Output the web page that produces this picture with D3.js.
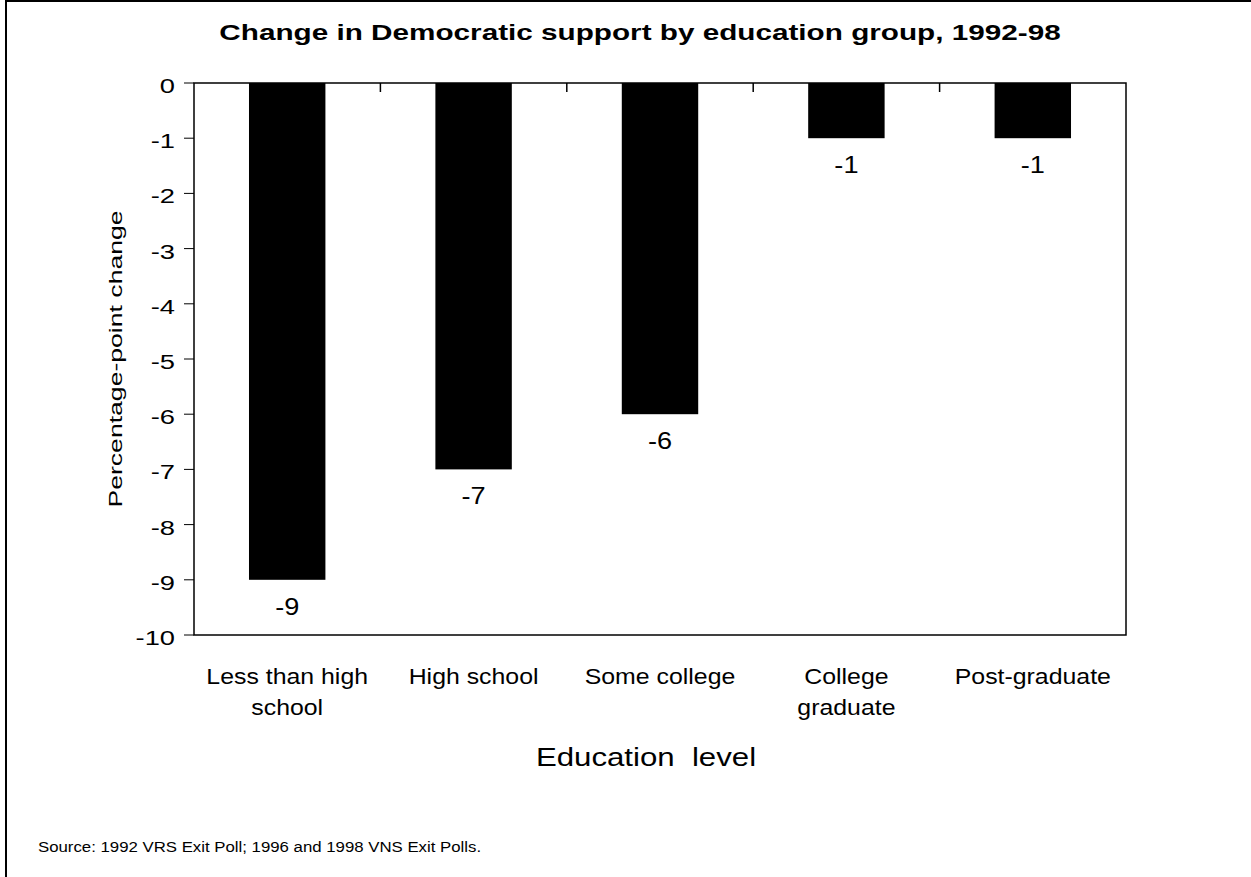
<!DOCTYPE html>
<html>
<head>
<meta charset="utf-8">
<script src="https://cdn.jsdelivr.net/npm/d3@7"></script>
<style>
  body { margin: 0; background: #fff; }
  text { font-family: "Liberation Sans", Arial, sans-serif; fill: #000; }
</style>
</head>
<body>
<div id="chart"></div>
<script>
// data
var categories = ["Less than high school", "High school", "Some college", "College graduate", "Post-graduate"];
var categoryLines = [["Less than high", "school"], ["High school"], ["Some college"], ["College", "graduate"], ["Post-graduate"]];
var changes = [-9, -7, -6, -1, -1];
var yTicks = [0, -1, -2, -3, -4, -5, -6, -7, -8, -9, -10];

var width = 1251, height = 877;
var margin = {top: 83, right: 125, bottom: 242, left: 194};

var svg = d3.select("#chart").append("svg")
  .attr("width", width)
  .attr("height", height);

// the original text is drawn wider than normal, so stretch it sideways
function wide(sel, sx) {
  sel.each(function() {
    var t = d3.select(this);
    var px = +t.attr("x") || 0, py = +t.attr("y") || 0;
    t.attr("x", 0).attr("y", 0)
      .attr("transform", `translate(${px},${py}) scale(${sx},1)`);
    t.selectAll("tspan").attr("x", 0);
  });
}

// outer frame (only left and top edges visible)
svg.append("rect")
  .attr("x", 6).attr("y", 1)
  .attr("width", width + 10).attr("height", height + 10)
  .attr("fill", "none").attr("stroke", "#000").attr("stroke-width", 2);

var x = d3.scaleBand()
  .domain(categories)
  .range([margin.left, width - margin.right])
  .paddingInner(0.59).paddingOuter(0.295);

var y = d3.scaleLinear()
  .domain([0, -10])
  .range([margin.top, height - margin.bottom]);

// plot box
svg.append("rect")
  .attr("x", margin.left).attr("y", margin.top)
  .attr("width", width - margin.right - margin.left)
  .attr("height", height - margin.bottom - margin.top)
  .attr("fill", "none").attr("stroke", "#000").attr("stroke-width", 1.5);

// bars
svg.append("g")
  .selectAll("rect")
  .data(changes)
  .join("rect")
  .attr("x", (d, i) => x(categories[i]))
  .attr("y", y(0))
  .attr("width", x.bandwidth())
  .attr("height", d => y(d) - y(0))
  .attr("fill", "#000");

// value labels
svg.append("g")
  .selectAll("text")
  .data(changes)
  .join("text")
  .attr("x", (d, i) => x(categories[i]) + x.bandwidth() / 2)
  .attr("y", d => y(d) + 35)
  .attr("text-anchor", "middle")
  .attr("font-size", 23)
  .text(d => String(d))
  .call(wide, 1.18);

// y axis ticks
svg.append("g")
  .selectAll("line")
  .data(yTicks)
  .join("line")
  .attr("x1", margin.left - 10).attr("x2", margin.left)
  .attr("y1", d => y(d)).attr("y2", d => y(d))
  .attr("stroke", "#000");

svg.append("g")
  .selectAll("text")
  .data(yTicks)
  .join("text")
  .attr("x", margin.left - 19)
  .attr("y", d => y(d) + 10)
  .attr("text-anchor", "end")
  .attr("font-size", 21)
  .text(d => String(d))
  .call(wide, 1.3);

// category separator ticks at the zero line
var step = x.step();
var boundaries = categories.slice(1).map(c => x(c) - x.paddingInner() * step / 2);
svg.append("g")
  .selectAll("line")
  .data(boundaries)
  .join("line")
  .attr("x1", d => d).attr("x2", d => d)
  .attr("y1", y(0)).attr("y2", y(0) + 9)
  .attr("stroke", "#000").attr("stroke-width", 1.5);

// category labels
var catG = svg.append("g")
  .selectAll("text")
  .data(categoryLines)
  .join("text")
  .attr("text-anchor", "middle")
  .attr("font-size", 22)
  .attr("x", (d, i) => x(categories[i]) + x.bandwidth() / 2)
  .attr("y", 684);
catG.selectAll("tspan")
  .data(d => d)
  .join("tspan")
  .attr("dy", (d, i) => i === 0 ? 0 : 31)
  .text(d => d);
catG.call(wide, 1.13);

// title
svg.append("text")
  .attr("x", 640).attr("y", 40)
  .attr("text-anchor", "middle")
  .attr("font-size", 22)
  .attr("font-weight", "bold")
  .text("Change in Democratic support by education group, 1992-98")
  .call(wide, 1.35);

// axis titles
svg.append("text")
  .attr("transform", `translate(122,${(margin.top + height - margin.bottom) / 2}) rotate(-90) scale(1.4,1)`)
  .attr("text-anchor", "middle")
  .attr("font-size", 19)
  .text("Percentage-point change");

svg.append("text")
  .attr("x", 646).attr("y", 766)
  .attr("text-anchor", "middle")
  .attr("font-size", 26)
  .style("white-space", "pre")
  .text("Education  level")
  .call(wide, 1.2);

// source
svg.append("text")
  .attr("x", 38).attr("y", 852)
  .attr("font-size", 15)
  .text("Source: 1992 VRS Exit Poll; 1996 and 1998 VNS Exit Polls.")
  .call(wide, 1.12);
</script>
</body>
</html>
